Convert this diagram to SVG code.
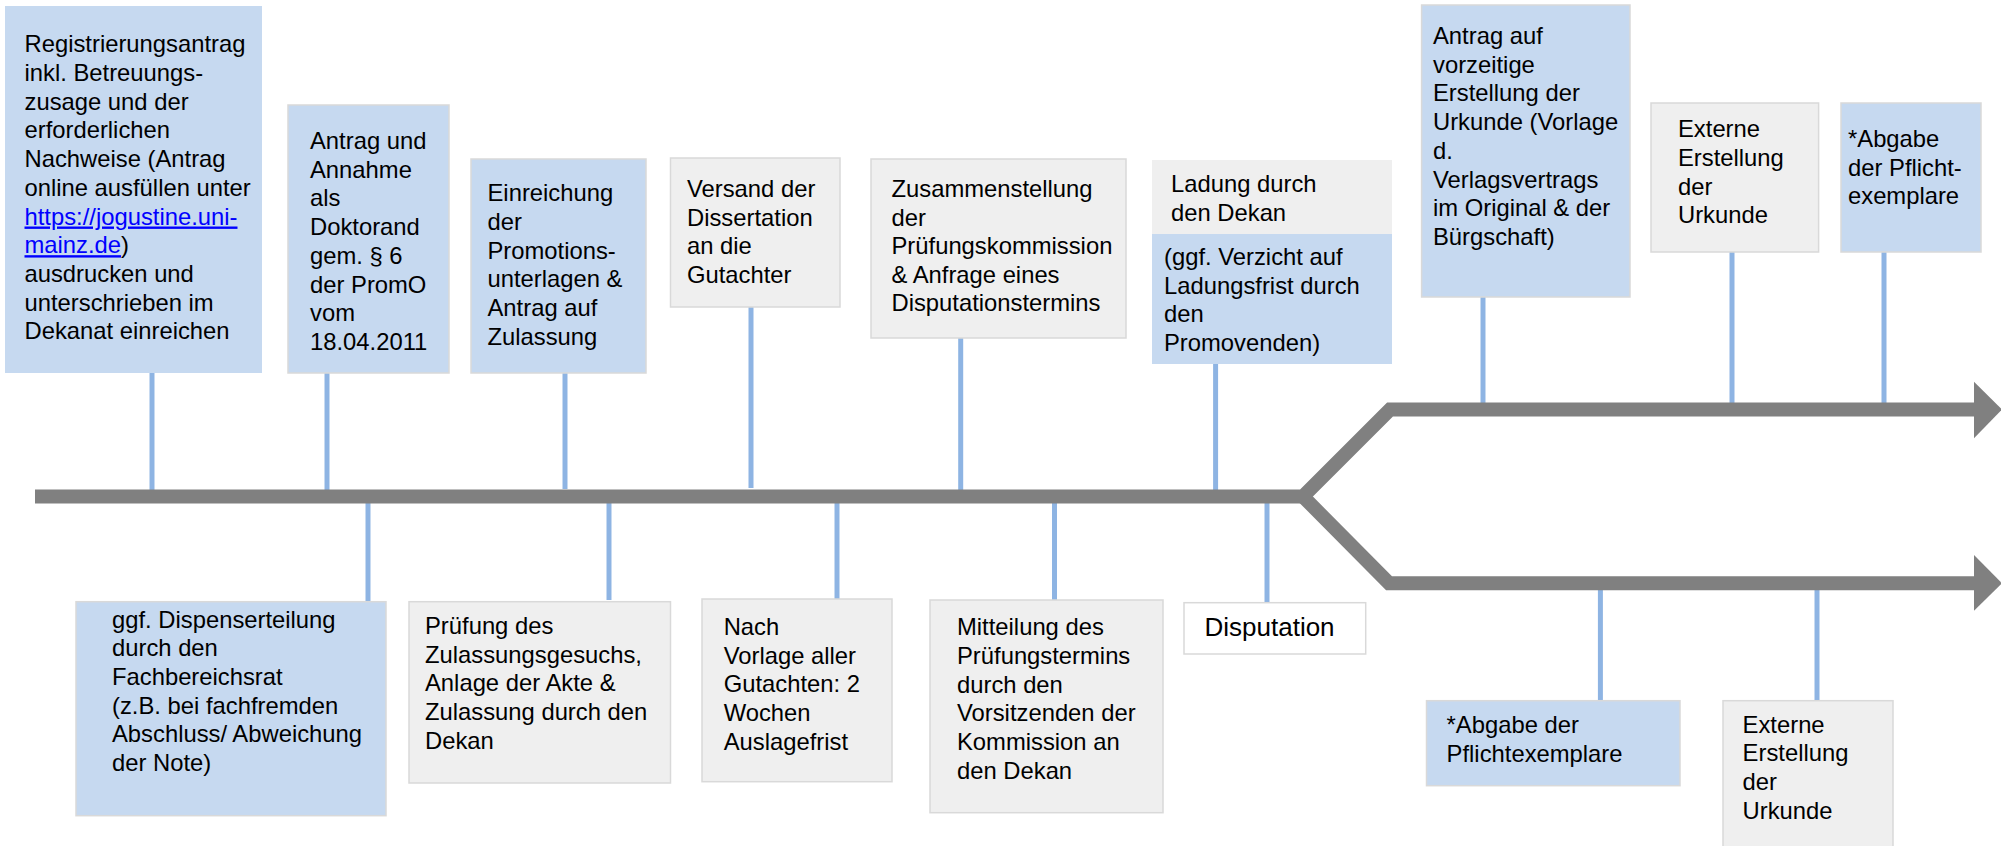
<svg xmlns="http://www.w3.org/2000/svg" width="2001" height="846" viewBox="0 0 2001 846">
<style>
.blue{fill:#C6D9F0;stroke:#D9D9D9;stroke-width:1.5}
.bluenb{fill:#C6D9F0;stroke:none}
.gray{fill:#EFEFEF;stroke:#D9D9D9;stroke-width:1.5}
.graynb{fill:#EFEFEF;stroke:none}
.white{fill:#FFFFFF;stroke:#D9D9D9;stroke-width:1.5}
.t{font-family:"Liberation Sans",Arial,sans-serif;font-size:23.8px;fill:#000}
.link{fill:#0000FF;text-decoration:underline}
.conn line{stroke:#8EB4E3;stroke-width:5}
.bar{fill:none;stroke:#808080;stroke-width:14;stroke-linejoin:miter;stroke-miterlimit:10}
.head{fill:#808080}
</style>
<rect width="2001" height="846" fill="#FFFFFF"/>

<g id="connectors" class="conn">
<line x1="152" y1="373" x2="152" y2="492"/>
<line x1="327" y1="373" x2="327" y2="492"/>
<line x1="565" y1="373" x2="565" y2="489"/>
<line x1="751" y1="307" x2="751" y2="488"/>
<line x1="960.7" y1="338" x2="960.7" y2="492"/>
<line x1="1215.6" y1="364" x2="1215.6" y2="492"/>
<line x1="1483" y1="297" x2="1483" y2="404"/>
<line x1="1732" y1="252" x2="1732" y2="404"/>
<line x1="1884" y1="250" x2="1884" y2="404"/>
<line x1="368" y1="502" x2="368" y2="602"/>
<line x1="609" y1="502" x2="609" y2="600"/>
<line x1="837" y1="502" x2="837" y2="602"/>
<line x1="1054.5" y1="502" x2="1054.5" y2="600"/>
<line x1="1267" y1="502" x2="1267" y2="603"/>
<line x1="1600.4" y1="589" x2="1600.4" y2="701"/>
<line x1="1817" y1="589" x2="1817" y2="701"/>
</g>

<g id="timeline">
<path class="bar" d="M35 496.5 H1303 L1390 409.5 H1976"/>
<path class="bar" d="M1303 496.5 L1389 583.3 H1976"/>
<polygon class="head" points="1974,381.7 2002,409.5 1974,438.3"/>
<polygon class="head" points="1974,555 2002,583.3 1974,610.7"/>
</g>

<g id="n1">
<rect class="bluenb" x="5" y="6" width="257" height="367"/>
<text class="t" x="24.5" y="52.3">
<tspan x="24.5" y="52.3">Registrierungsantrag</tspan>
<tspan x="24.5" y="81">inkl. Betreuungs-</tspan>
<tspan x="24.5" y="109.7">zusage und der</tspan>
<tspan x="24.5" y="138.4">erforderlichen</tspan>
<tspan x="24.5" y="167.1">Nachweise (Antrag</tspan>
<tspan x="24.5" y="195.8">online ausfüllen unter</tspan>
<tspan x="24.5" y="224.5" class="link">https://jogustine.uni-</tspan>
<tspan x="24.5" y="253.2" class="link">mainz.de</tspan><tspan>)</tspan>
<tspan x="24.5" y="281.9">ausdrucken und</tspan>
<tspan x="24.5" y="310.6">unterschrieben im</tspan>
<tspan x="24.5" y="339.3">Dekanat einreichen</tspan>
</text>
</g>

<g id="n2">
<rect class="blue" x="288" y="105" width="161" height="268"/>
<text class="t">
<tspan x="310" y="149">Antrag und</tspan>
<tspan x="310" y="177.7">Annahme</tspan>
<tspan x="310" y="206.4">als</tspan>
<tspan x="310" y="235.1">Doktorand</tspan>
<tspan x="310" y="263.8">gem. § 6</tspan>
<tspan x="310" y="292.5">der PromO</tspan>
<tspan x="310" y="321.2">vom</tspan>
<tspan x="310" y="349.9">18.04.2011</tspan>
</text>
</g>

<g id="n3">
<rect class="blue" x="471" y="159" width="175" height="214"/>
<text class="t">
<tspan x="487.5" y="201">Einreichung</tspan>
<tspan x="487.5" y="229.8">der</tspan>
<tspan x="487.5" y="258.6">Promotions-</tspan>
<tspan x="487.5" y="287.4">unterlagen &amp;</tspan>
<tspan x="487.5" y="316.2">Antrag auf</tspan>
<tspan x="487.5" y="345">Zulassung</tspan>
</text>
</g>

<g id="n4">
<rect class="gray" x="670.5" y="158" width="169.5" height="149"/>
<text class="t">
<tspan x="687" y="197">Versand der</tspan>
<tspan x="687" y="225.7">Dissertation</tspan>
<tspan x="687" y="254.4">an die</tspan>
<tspan x="687" y="283.1">Gutachter</tspan>
</text>
</g>

<g id="n5">
<rect class="gray" x="871" y="159" width="255" height="179"/>
<text class="t">
<tspan x="891.5" y="197">Zusammenstellung</tspan>
<tspan x="891.5" y="225.6">der</tspan>
<tspan x="891.5" y="254.2">Prüfungskommission</tspan>
<tspan x="891.5" y="282.8">&amp; Anfrage eines</tspan>
<tspan x="891.5" y="311.4">Disputationstermins</tspan>
</text>
</g>

<g id="n6">
<rect class="graynb" x="1152" y="160" width="240" height="74"/>
<rect class="bluenb" x="1152" y="234" width="240" height="130"/>
<text class="t">
<tspan x="1171" y="192">Ladung durch</tspan>
<tspan x="1171" y="220.5">den Dekan</tspan>
<tspan x="1164" y="265">(ggf. Verzicht auf</tspan>
<tspan x="1164" y="293.5">Ladungsfrist  durch</tspan>
<tspan x="1164" y="322">den</tspan>
<tspan x="1164" y="350.5">Promovenden)</tspan>
</text>
</g>

<g id="n7">
<rect class="blue" x="1421.6" y="5" width="208.4" height="292"/>
<text class="t">
<tspan x="1433" y="44">Antrag auf</tspan>
<tspan x="1433" y="72.7">vorzeitige</tspan>
<tspan x="1433" y="101.4">Erstellung der</tspan>
<tspan x="1433" y="130.1">Urkunde (Vorlage</tspan>
<tspan x="1433" y="158.8">d.</tspan>
<tspan x="1433" y="187.5">Verlagsvertrags</tspan>
<tspan x="1433" y="216.2">im Original &amp; der</tspan>
<tspan x="1433" y="244.9">Bürgschaft)</tspan>
</text>
</g>

<g id="n8">
<rect class="gray" x="1651" y="103" width="167.6" height="149"/>
<text class="t">
<tspan x="1678" y="137">Externe</tspan>
<tspan x="1678" y="166">Erstellung</tspan>
<tspan x="1678" y="194.7">der</tspan>
<tspan x="1678" y="223.4">Urkunde</tspan>
</text>
</g>

<g id="n9">
<rect class="blue" x="1841" y="103" width="140" height="149"/>
<text class="t">
<tspan x="1848" y="147">*Abgabe</tspan>
<tspan x="1848" y="175.7">der Pflicht-</tspan>
<tspan x="1848" y="204.4">exemplare</tspan>
</text>
</g>

<g id="n10">
<rect class="blue" x="76" y="601.7" width="310" height="214"/>
<text class="t">
<tspan x="112" y="627.7">ggf. Dispenserteilung</tspan>
<tspan x="112" y="656.3">durch den</tspan>
<tspan x="112" y="684.9">Fachbereichsrat</tspan>
<tspan x="112" y="713.5">(z.B. bei fachfremden</tspan>
<tspan x="112" y="742.1">Abschluss/  Abweichung</tspan>
<tspan x="112" y="770.7">der Note)</tspan>
</text>
</g>

<g id="n11">
<rect class="gray" x="409" y="601.7" width="261.5" height="181.3"/>
<text class="t">
<tspan x="425" y="634">Prüfung des</tspan>
<tspan x="425" y="662.7">Zulassungsgesuchs,</tspan>
<tspan x="425" y="691.4">Anlage der Akte &amp;</tspan>
<tspan x="425" y="720.1">Zulassung durch den</tspan>
<tspan x="425" y="748.8">Dekan</tspan>
</text>
</g>

<g id="n12">
<rect class="gray" x="702" y="599" width="190" height="182.7"/>
<text class="t">
<tspan x="723.7" y="635">Nach</tspan>
<tspan x="723.7" y="663.7">Vorlage aller</tspan>
<tspan x="723.7" y="692.4">Gutachten: 2</tspan>
<tspan x="723.7" y="721.1">Wochen</tspan>
<tspan x="723.7" y="749.8">Auslagefrist</tspan>
</text>
</g>

<g id="n13">
<rect class="gray" x="930" y="600" width="233" height="212.7"/>
<text class="t">
<tspan x="957" y="635">Mitteilung des</tspan>
<tspan x="957" y="663.8">Prüfungstermins</tspan>
<tspan x="957" y="692.6">durch den</tspan>
<tspan x="957" y="721.4">Vorsitzenden der</tspan>
<tspan x="957" y="750.2">Kommission an</tspan>
<tspan x="957" y="779">den Dekan</tspan>
</text>
</g>

<g id="n14">
<rect class="white" x="1184" y="602.7" width="181.7" height="51.3"/>
<text class="t" x="1204.5" y="635.7" style="font-size:26px">Disputation</text>
</g>

<g id="n15">
<rect class="blue" x="1426.5" y="700.7" width="253.5" height="85"/>
<text class="t">
<tspan x="1446.6" y="732.7">*Abgabe der</tspan>
<tspan x="1446.6" y="761.5">Pflichtexemplare</tspan>
</text>
</g>

<g id="n16">
<rect class="gray" x="1723" y="700.7" width="170" height="160"/>
<text class="t">
<tspan x="1742.6" y="732.7">Externe</tspan>
<tspan x="1742.6" y="761.4">Erstellung</tspan>
<tspan x="1742.6" y="790.1">der</tspan>
<tspan x="1742.6" y="818.8">Urkunde</tspan>
</text>
</g>
</svg>
